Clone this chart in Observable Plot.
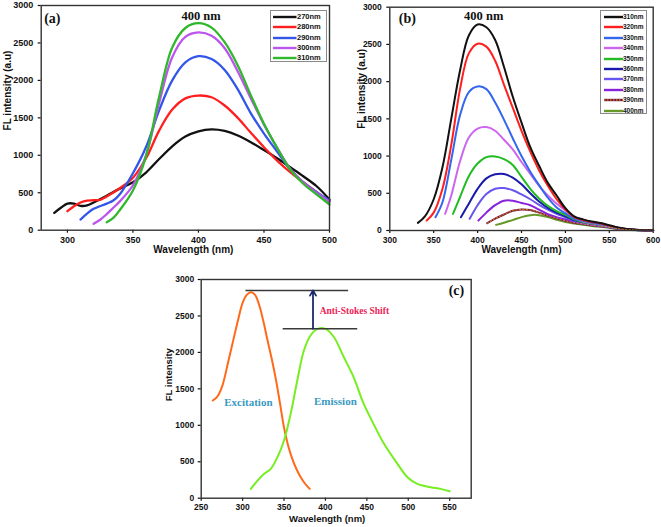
<!DOCTYPE html>
<html><head><meta charset="utf-8">
<script src="https://cdn.jsdelivr.net/npm/d3@7"></script>
<script src="https://cdn.jsdelivr.net/npm/@observablehq/plot@0.6"></script>
<style>
body{margin:0;background:#fff;}
#wrap{position:relative;width:661px;height:527px;overflow:hidden;background:#fff;}
.panel{position:absolute;}
.legend{position:absolute;box-sizing:border-box;border:1px solid #8a8a8a;background:#fff;font-family:"Liberation Sans",Arial,sans-serif;font-weight:bold;color:#111;}
.row{position:absolute;left:0;right:0;height:10px;}
.row svg{position:absolute;top:0;}
.row span{position:absolute;top:0;line-height:10px;white-space:nowrap;}
</style></head><body><div id="wrap"></div><script>
// ---------- Data ----------
const yTicks = [0, 500, 1000, 1500, 2000, 2500, 3000];

// Panel (a)
const aNames = ["270nm", "280nm", "290nm", "300nm", "310nm"];
const aColors = ["#111111", "#ff1f1f", "#3156e8", "#bb55ee", "#2fb82a"];
const aTicksX = [300, 350, 400, 450, 500];
const a270 = [[290,231],[295,300],[300,355],[305,355],[310,325],[315,330],[320,370],[330,460],[340,555],[350,640],[360,770],[370,950],[380,1120],[390,1250],[400,1320],[410,1345],[420,1325],[430,1265],[440,1175],[450,1070],[460,960],[470,840],[480,720],[490,590],[500,410]];
const a280 = [[300,254],[305,320],[310,370],[315,396],[320,400],[325,405],[330,450],[340,560],[350,700],[360,960],[370,1330],[380,1610],[390,1760],[400,1798],[410,1775],[420,1665],[430,1500],[440,1300],[450,1108],[460,930],[470,775],[480,640],[490,510],[500,383]];
const a290 = [[310,142],[315,220],[320,285],[330,355],[335,396],[340,480],[350,760],[360,1110],[370,1600],[380,2000],[390,2240],[400,2323],[410,2285],[420,2140],[430,1880],[440,1560],[450,1290],[460,1050],[470,810],[480,640],[490,510],[500,396]];
const a300 = [[320,85],[325,140],[330,215],[335,300],[340,385],[350,600],[360,1000],[370,1700],[380,2310],[390,2580],[400,2640],[410,2595],[420,2430],[430,2120],[440,1760],[450,1410],[460,1100],[470,820],[480,640],[490,500],[500,380]];
const a310 = [[330,107],[335,165],[340,270],[350,530],[360,990],[370,1780],[380,2440],[390,2700],[400,2764],[410,2705],[420,2510],[430,2200],[440,1800],[450,1420],[460,1100],[470,810],[480,620],[490,480],[500,343]];
const aPeakLabel = ["400 nm", 402, 2855];

// Panel (b)
const bNames = ["310nm","320nm","330nm","340nm","350nm","360nm","370nm","380nm","390nm","400nm"];
const bColors = ["#111111","#ff1f1f","#3366ee","#cc66ee","#22bb22","#1a1aaa","#6655ee","#8822dd","#6e1838","#66992a"];
const bTicksX = [300, 350, 400, 450, 500, 550, 600];
const b310 = [[332,103],[340,190],[350,420],[360,850],[370,1500],[380,2150],[390,2620],[400,2767],[410,2730],[420,2560],[430,2200],[440,1800],[450,1450],[460,1119],[470,870],[480,640],[490,470],[500,300],[510,190],[520,150],[530,120],[540,100],[550,70],[560,40],[570,20],[580,10],[590,5],[600,3]];
const b320 = [[342,134],[350,240],[360,560],[370,1150],[380,1900],[390,2380],[400,2510],[410,2470],[420,2280],[430,1960],[440,1650],[450,1340],[460,1060],[470,810],[480,600],[490,420],[500,280],[510,180],[520,140],[530,115],[540,95],[550,65],[560,38],[570,20],[580,10],[590,5],[600,3]];
const b330 = [[352,179],[360,380],[370,950],[380,1550],[390,1860],[400,1935],[410,1900],[420,1720],[430,1490],[440,1240],[450,1000],[460,790],[470,610],[480,440],[490,310],[500,230],[510,160],[520,130],[530,105],[540,85],[550,60],[560,35],[570,18],[580,9],[590,5],[600,3]];
const b340 = [[363,224],[370,470],[380,930],[390,1250],[400,1370],[410,1390],[420,1340],[430,1220],[440,1090],[450,920],[460,760],[470,600],[480,470],[490,360],[500,270],[510,170],[520,125],[530,100],[540,80],[550,58],[560,34],[570,17],[580,8],[590,4],[600,2]];
const b350 = [[372,224],[380,450],[390,730],[400,900],[410,985],[420,995],[430,960],[440,880],[450,720],[460,560],[470,430],[480,330],[490,260],[500,210],[510,150],[520,115],[530,95],[540,75],[550,55],[560,32],[570,16],[580,8],[590,4],[600,2]];
const b360 = [[381,179],[390,360],[400,560],[410,700],[420,755],[430,760],[440,710],[450,620],[460,500],[470,390],[480,305],[490,240],[500,190],[510,140],[520,110],[530,90],[540,72],[550,52],[560,30],[570,15],[580,7],[590,3],[600,2]];
const b370 = [[391,157],[400,340],[410,490],[420,560],[430,570],[440,540],[450,485],[460,420],[470,345],[480,280],[490,225],[500,180],[510,135],[520,105],[530,85],[540,68],[550,50],[560,28],[570,14],[580,7],[590,3],[600,2]];
const b380 = [[401,134],[410,240],[420,340],[430,400],[440,400],[450,370],[460,340],[470,280],[480,220],[490,180],[500,150],[510,120],[520,95],[530,78],[540,62],[550,45],[560,26],[570,13],[580,6],[590,3],[600,2]];
const b390 = [[411,98],[420,160],[430,215],[440,265],[450,283],[460,275],[470,240],[480,200],[490,165],[500,130],[510,105],[520,88],[530,72],[540,58],[550,42],[560,24],[570,12],[580,6],[590,3],[600,2]];
const b400 = [[421,76],[430,105],[440,140],[450,180],[460,205],[465,210],[470,205],[480,180],[490,145],[500,115],[510,95],[520,78],[530,62],[540,50],[550,36],[560,22],[570,11],[580,5],[590,3],[600,2]];
const bPeakLabel = ["400 nm", 407, 2885];

// Panel (c)
const cNames = ["Excitation", "Emission"];
const cColors = ["#ff6a1a", "#77ee22"];
const cTicksX = [250, 300, 350, 400, 450, 500, 550];
const cExc = [[264,1340],[269,1386],[275,1523],[283,1890],[290,2230],[295,2470],[300,2680],[305,2790],[310,2826],[315,2790],[320,2650],[325,2430],[330,2170],[335,1920],[340,1640],[345,1310],[350,970],[355,720],[360,540],[365,400],[370,290],[375,205],[381,128]];
const cEm = [[310,128],[318,242],[326,334],[334,402],[342,562],[350,791],[358,1157],[366,1614],[374,2026],[382,2232],[390,2320],[400,2323],[410,2215],[422,1940],[434,1660],[446,1300],[458,1020],[470,760],[487,471],[499,288],[511,197],[527,151],[539,128],[550,96]];
const cShiftLevels = [{x1: 304, x2: 428, y: 2850}, {x1: 349, x2: 439, y: 2323}];
const cShiftArrow = [{x: 385, y1: 2323, y2: 2850}];
const cCurveLabels = [{text: "Excitation", x: 307, y: 1317}, {text: "Emission", x: 412, y: 1326}];
const cShiftLabel = ["Anti-Stokes Shift", 393, 2575];

// ---------- Helpers ----------
const SANS = "'Liberation Sans', Arial, sans-serif";
const SERIF = "'Liberation Serif', 'Times New Roman', serif";
const rows = (names, arrays) => names.flatMap((n, i) => arrays[i].map(([x, y]) => ({series: n, x, y})));
const wrap = document.getElementById("wrap");

function panel(o) {
  const svg = Plot.plot({
    width: o.width, height: o.height,
    marginTop: o.m[0], marginRight: o.m[1], marginBottom: o.m[2], marginLeft: o.m[3],
    x: {domain: o.xDomain},
    y: {domain: [0, 3000]},
    color: {domain: o.names, range: o.colors},
    style: {background: "transparent", maxWidth: "none", overflow: "visible", fontFamily: SANS, fontWeight: "bold", color: "#111"},
    marks: [
      Plot.axisX({ticks: o.xTicks, tickSize: 3, tickPadding: o.tp, tickFormat: "d", label: null, fontSize: o.tf, fontWeight: "bold", strokeWidth: 1.2}),
      Plot.axisY({ticks: yTicks, tickSize: 3, tickPadding: o.tpy, tickFormat: "d", label: null, fontSize: o.tf, fontWeight: "bold", strokeWidth: 1.2}),
      ...o.marks,
      Plot.frame({stroke: "#333", strokeWidth: 1.4}),
      Plot.text([o.xLabel], {text: d => d, frameAnchor: "bottom", lineAnchor: "middle", dx: o.xl[0], dy: o.xl[1], fontSize: o.lf, fontWeight: "bold", fontFamily: SANS, fill: "#111"}),
      Plot.text([o.yLabel], {text: d => d, frameAnchor: "left", lineAnchor: "middle", rotate: -90, dx: o.yl[0], dy: o.yl[1], fontSize: o.lf, fontWeight: "bold", fontFamily: SANS, fill: "#111"}),
      Plot.text([o.tag], {text: d => d, frameAnchor: o.tagAnchor, lineAnchor: "middle", textAnchor: o.tagAnchor === "top-left" ? "start" : "end", dx: o.tagPos[0], dy: o.tagPos[1], fontSize: 14, fontWeight: "bold", fontFamily: SERIF, fill: "#111"})
    ]
  });
  const div = document.createElement("div");
  div.className = "panel";
  div.style.left = o.left + "px"; div.style.top = o.top + "px";
  div.style.width = o.width + "px"; div.style.height = o.height + "px";
  div.appendChild(svg);
  wrap.appendChild(div);
}

function legend(o) {
  const box = document.createElement("div");
  box.className = "legend";
  Object.assign(box.style, {left: o.left + "px", top: o.top + "px", width: o.width + "px", height: o.height + "px", fontSize: o.fs + "px"});
  o.names.forEach((n, i) => {
    const r = document.createElement("div");
    r.className = "row";
    r.style.top = (o.first + i * o.step - 5) + "px";
    const w = o.sw[1] - o.sw[0];
    const dash = o.dotted && o.dotted.includes(n) ? `<line x1="0" x2="${w}" y1="5" y2="5" stroke="#ff9a2a" stroke-width="1" stroke-dasharray="1.5,1.5"/>` : "";
    r.innerHTML = `<svg width="${w}" height="10" style="left:${o.sw[0]}px"><line x1="0" x2="${w}" y1="5" y2="5" stroke="${o.colors[i]}" stroke-width="2.4"/>${dash}</svg><span style="left:${o.sw[1] + 0.5}px">${n}</span>`;
    box.appendChild(r);
  });
  wrap.appendChild(box);
}

// ---------- Panel (a) ----------
panel({
  left: 0, top: 0, width: 340, height: 262, m: [5, 11, 32.3, 40.7],
  xDomain: [280, 500], xTicks: aTicksX, names: aNames, colors: aColors, tp: 3.5, tpy: 5, tf: 9, lf: 10,
  xLabel: "Wavelength (nm)", xl: [8, 20], yLabel: "FL intensity (a.u)", yl: [-33.7, 12.6],
  tag: "(a)", tagAnchor: "top-left", tagPos: [3, 13],
  marks: [
    Plot.line(rows(aNames, [a270, a280, a290, a300, a310]), {x: "x", y: "y", z: "series", stroke: "series", curve: "catmull-rom", strokeWidth: 2.3}),
    Plot.text([aPeakLabel], {x: d => d[1], y: d => d[2], text: d => d[0], fontSize: 12.5, fontWeight: "bold", fontFamily: SERIF, fill: "#111"})
  ]
});
legend({left: 269.5, top: 10, width: 57, height: 52, fs: 7.5, names: aNames, colors: aColors, first: 5.7, step: 10.4, sw: [2.5, 26]});

// ---------- Panel (b) ----------
panel({
  left: 340, top: 0, width: 321, height: 262, m: [6.7, 8.3, 32, 49.3],
  xDomain: [300, 600], xTicks: bTicksX, names: bNames, colors: bColors, tp: 3.5, tpy: 5, tf: 8.5, lf: 10,
  xLabel: "Wavelength (nm)", xl: [0, 19.7], yLabel: "FL intensity (a.u)", yl: [-27.6, 10],
  tag: "(b)", tagAnchor: "top-left", tagPos: [9, 11.3],
  marks: [
    Plot.line(rows(bNames, [b310, b320, b330, b340, b350, b360, b370, b380, b390, b400]).reverse(), {x: "x", y: "y", z: "series", stroke: "series", curve: "catmull-rom", strokeWidth: 2}),
    Plot.line(rows(["390nm"], [b390]), {x: "x", y: "y", stroke: "#ff9a2a", curve: "catmull-rom", strokeWidth: 0.8, strokeDasharray: "1.5,2"}),
    Plot.text([bPeakLabel], {x: d => d[1], y: d => d[2], text: d => d[0], fontSize: 12.5, fontWeight: "bold", fontFamily: SERIF, fill: "#111"})
  ]
});
legend({left: 600, top: 10, width: 47, height: 104, fs: 6.5, names: bNames, colors: bColors, first: 5.7, step: 10.45, sw: [2.5, 21.5], dotted: ["390nm"]});

// ---------- Panel (c) ----------
panel({
  left: 150, top: 262, width: 340, height: 265, m: [17, 19.3, 29.3, 50.7],
  xDomain: [250, 576], xTicks: cTicksX, names: cNames, colors: cColors, tp: 3, tpy: 4, tf: 8.5, lf: 9.5,
  xLabel: "Wavelength (nm)", xl: [-9, 20.5], yLabel: "FL intensity", yl: [-32.4, 12.4],
  tag: "(c)", tagAnchor: "top-right", tagPos: [-7, 11],
  marks: [
    Plot.line(rows(cNames, [cExc, cEm]), {x: "x", y: "y", z: "series", stroke: "series", curve: "catmull-rom", strokeWidth: 2}),
    Plot.ruleY(cShiftLevels, {y: "y", x1: "x1", x2: "x2", stroke: "#3a3a3a", strokeWidth: 1.5}),
    Plot.arrow(cShiftArrow, {x1: "x", x2: "x", y1: "y1", y2: "y2", stroke: "#1b2a6b", strokeWidth: 1.8, headLength: 5}),
    Plot.text(cCurveLabels, {x: "x", y: "y", text: "text", fontSize: 11, fontWeight: "bold", fontFamily: SERIF, fill: "#3a9ac0"}),
    Plot.text([cShiftLabel], {x: d => d[1], y: d => d[2], text: d => d[0], textAnchor: "start", fontSize: 9.5, fontWeight: "bold", fontFamily: SERIF, fill: "#ee2255"})
  ]
});
</script></body></html>
